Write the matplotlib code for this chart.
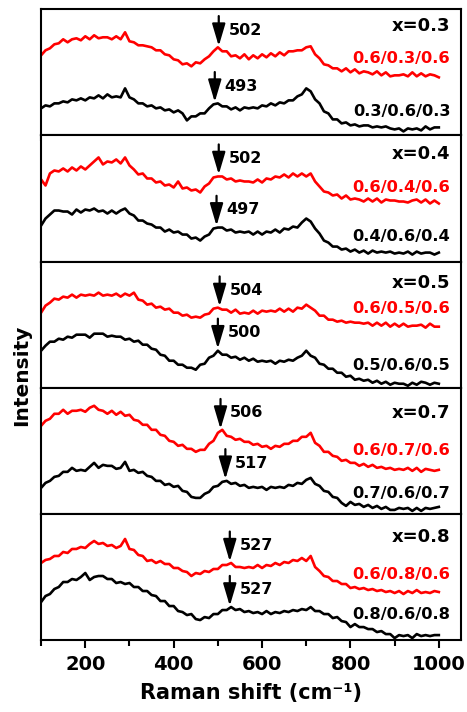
import matplotlib.pyplot as plt
import numpy as np
from matplotlib.ticker import MultipleLocator

plt.rcParams['font.family'] = 'DejaVu Sans'
plt.rcParams['font.weight'] = 'bold'

# Raman shift grid (cm-1), read every 10 cm-1
shift = np.arange(100, 1001, 10)

# intensities (arb. units, per panel)
red_03 = [80, 85, 87, 91, 92, 96, 93, 96, 97, 95, 99, 96, 100, 97, 98, 98, 96, 99, 96, 103,
          94, 93, 90, 90, 89, 88, 85, 85, 81, 80, 76, 75, 71, 72, 69, 73, 72, 76, 79, 84,
          88, 84, 84, 79, 80, 77, 81, 76, 80, 77, 81, 78, 82, 79, 83, 80, 84, 84, 85, 85,
          88, 89, 81, 77, 71, 70, 67, 67, 64, 67, 63, 66, 62, 64, 63, 61, 64, 60, 63, 59,
          60, 60, 61, 59, 63, 59, 62, 59, 61, 60, 58]
black_03 = [27, 30, 29, 32, 32, 34, 33, 36, 35, 37, 35, 38, 37, 40, 37, 41, 38, 39, 38, 47,
            38, 36, 32, 32, 29, 30, 27, 28, 25, 26, 23, 25, 22, 15, 19, 19, 22, 22, 27, 31,
            32, 29, 29, 26, 28, 25, 28, 27, 28, 27, 30, 29, 32, 30, 33, 32, 35, 35, 39, 41,
            47, 44, 36, 32, 24, 22, 16, 16, 12, 13, 10, 11, 9, 10, 10, 8, 9, 8, 9, 7,
            6, 7, 4, 7, 6, 7, 5, 9, 6, 8, 8]
red_04 = [82, 76, 88, 91, 90, 93, 90, 94, 91, 95, 92, 96, 100, 104, 97, 100, 99, 102, 98, 104,
          96, 92, 87, 88, 83, 83, 79, 80, 76, 77, 74, 80, 73, 74, 71, 72, 69, 75, 78, 84,
          85, 85, 82, 83, 80, 81, 80, 80, 79, 82, 79, 83, 82, 85, 84, 87, 84, 88, 85, 88,
          85, 88, 80, 75, 70, 69, 66, 67, 63, 66, 62, 63, 62, 60, 63, 60, 63, 59, 62, 61,
          61, 60, 60, 59, 61, 62, 59, 62, 58, 61, 58]
black_04 = [36, 43, 47, 51, 51, 50, 50, 47, 52, 49, 52, 51, 53, 50, 51, 48, 51, 48, 51, 53,
            48, 46, 41, 41, 38, 37, 34, 34, 30, 32, 29, 30, 27, 27, 23, 24, 21, 25, 27, 33,
            34, 34, 31, 32, 29, 30, 29, 30, 27, 30, 27, 30, 29, 32, 29, 33, 32, 35, 34, 39,
            43, 40, 33, 28, 21, 19, 15, 15, 12, 13, 10, 12, 9, 11, 8, 11, 9, 10, 9, 10,
            8, 9, 8, 10, 7, 10, 8, 9, 9, 7, 9]
red_05 = [75, 82, 85, 89, 88, 91, 90, 93, 90, 93, 92, 93, 92, 95, 92, 93, 92, 94, 91, 94,
          92, 95, 88, 87, 83, 84, 80, 81, 78, 79, 75, 75, 72, 73, 70, 71, 70, 73, 74, 79,
          80, 78, 78, 75, 78, 74, 75, 74, 77, 74, 77, 76, 77, 76, 79, 76, 79, 76, 80, 79,
          83, 80, 77, 72, 72, 68, 68, 66, 67, 65, 66, 65, 65, 64, 65, 62, 65, 62, 65, 61,
          64, 61, 64, 61, 62, 62, 63, 60, 64, 61, 61]
black_05 = [37, 42, 46, 46, 49, 48, 51, 50, 53, 53, 53, 50, 54, 54, 54, 51, 52, 51, 51, 48,
            49, 46, 47, 43, 43, 39, 38, 33, 32, 27, 27, 23, 23, 20, 20, 18, 23, 24, 30, 32,
            37, 33, 33, 30, 31, 28, 30, 27, 29, 26, 27, 26, 27, 24, 27, 26, 28, 27, 30, 32,
            37, 32, 30, 24, 23, 19, 19, 15, 15, 11, 12, 8, 9, 7, 8, 5, 7, 4, 6, 3,
            5, 4, 4, 2, 5, 3, 6, 5, 3, 5, 4]
red_07 = [88, 93, 95, 100, 100, 104, 100, 103, 103, 104, 102, 106, 108, 104, 103, 100, 103, 99, 102, 98,
          99, 94, 93, 89, 89, 84, 84, 79, 78, 73, 72, 68, 69, 65, 65, 62, 64, 64, 70, 73,
          81, 84, 78, 77, 74, 75, 72, 72, 69, 70, 67, 68, 65, 68, 67, 70, 70, 73, 73, 77,
          77, 81, 71, 68, 62, 62, 58, 57, 53, 54, 51, 51, 48, 50, 47, 49, 46, 47, 45, 46,
          44, 45, 44, 46, 43, 46, 42, 45, 44, 43, 44]
black_07 = [26, 31, 33, 37, 38, 42, 42, 46, 43, 44, 43, 47, 51, 46, 49, 48, 48, 45, 46, 52,
            43, 44, 41, 42, 38, 37, 33, 33, 29, 30, 27, 28, 23, 22, 17, 16, 16, 20, 22, 27,
            28, 32, 33, 30, 31, 28, 29, 26, 27, 26, 27, 24, 27, 26, 27, 26, 29, 28, 31, 30,
            34, 36, 30, 28, 23, 22, 17, 16, 11, 8, 12, 9, 10, 7, 9, 6, 8, 5, 7, 4,
            4, 6, 5, 6, 3, 6, 3, 6, 5, 6, 7]
red_08 = [77, 80, 81, 84, 84, 88, 87, 91, 91, 93, 92, 96, 99, 96, 97, 94, 95, 92, 94, 101,
          91, 90, 85, 84, 79, 80, 77, 79, 76, 76, 72, 72, 69, 68, 64, 67, 66, 69, 68, 71,
          71, 75, 75, 77, 73, 73, 72, 73, 72, 75, 72, 75, 74, 77, 75, 78, 77, 80, 79, 82,
          79, 84, 73, 69, 64, 63, 59, 59, 56, 56, 52, 53, 51, 52, 50, 51, 49, 50, 48, 49,
          47, 49, 46, 49, 47, 50, 47, 48, 47, 49, 48]
black_08 = [38, 44, 46, 51, 53, 58, 58, 61, 60, 63, 67, 60, 63, 64, 64, 61, 61, 57, 58, 56,
            57, 53, 53, 49, 49, 45, 44, 39, 39, 34, 34, 29, 28, 25, 26, 21, 20, 23, 22, 26,
            26, 30, 30, 33, 30, 31, 28, 29, 27, 28, 26, 29, 26, 28, 27, 29, 28, 30, 29, 31,
            30, 33, 29, 29, 26, 26, 22, 23, 19, 18, 13, 16, 13, 13, 11, 11, 8, 9, 6, 6,
            2, 5, 4, 5, 2, 6, 4, 5, 4, 5, 5]

reds = [red_03, red_04, red_05, red_07, red_08]
blacks = [black_03, black_04, black_05, black_07, black_08]
x_labels = ['x=0.3', 'x=0.4', 'x=0.5', 'x=0.7', 'x=0.8']
red_names = ['0.6/0.3/0.6', '0.6/0.4/0.6', '0.6/0.5/0.6', '0.6/0.7/0.6', '0.6/0.8/0.6']
black_names = ['0.3/0.6/0.3', '0.4/0.6/0.4', '0.5/0.6/0.5', '0.7/0.6/0.7', '0.8/0.6/0.8']
red_peaks = [502, 502, 504, 506, 527]
black_peaks = [493, 497, 500, 517, 527]

# label heights (axes fraction)
x_lab_y = [0.865, 0.85, 0.83, 0.80, 0.82]
red_lab_y = [0.61, 0.59, 0.63, 0.50, 0.52]
black_lab_y = [0.19, 0.20, 0.18, 0.16, 0.20]

fig, axes = plt.subplots(5, 1, figsize=(4.67, 7.12), dpi=100, sharex=True)
fig.subplots_adjust(left=0.088, right=0.987, top=0.987, bottom=0.101, hspace=0)


def peak_arrow(ax, xs, ys, p):
    tip = np.interp(p, xs, ys) + 2
    ax.annotate('', xy=(p, tip), xytext=(p, tip + 30),
                arrowprops=dict(arrowstyle='-|>,head_width=0.4,head_length=1.35',
                                mutation_scale=10, lw=1.6, color='k',
                                shrinkA=0, shrinkB=0))
    ax.text(p + 22, tip + 16, str(p), fontsize=11.5, fontweight='bold',
            va='center', ha='left')


for i, ax in enumerate(axes):
    ax.plot(shift, reds[i], color='red', lw=1.9)
    ax.plot(shift, blacks[i], color='black', lw=1.9)
    peak_arrow(ax, shift, reds[i], red_peaks[i])
    peak_arrow(ax, shift, blacks[i], black_peaks[i])
    ax.text(0.975, x_lab_y[i], x_labels[i], transform=ax.transAxes,
            ha='right', va='center', fontsize=13, fontweight='bold')
    ax.text(0.975, red_lab_y[i], red_names[i], transform=ax.transAxes,
            ha='right', va='center', fontsize=11.7, fontweight='bold', color='red')
    ax.text(0.975, black_lab_y[i], black_names[i], transform=ax.transAxes,
            ha='right', va='center', fontsize=11.7, fontweight='bold', color='black')
    ax.set_ylim(0, 126)
    ax.set_xlim(100, 1050)
    ax.set_yticks([])
    ax.xaxis.set_major_locator(MultipleLocator(200))
    ax.xaxis.set_minor_locator(MultipleLocator(100))
    ax.tick_params(axis='x', which='major', direction='out', length=6, width=1.5,
                   labelsize=14, pad=5)
    ax.tick_params(axis='x', which='minor', direction='out', length=4, width=1.5)
    for s in ax.spines.values():
        s.set_linewidth(1.5)

axes[-1].set_xlabel('Raman shift (cm\u207b\u00b9)', fontsize=15, fontweight='bold', labelpad=6)
fig.text(0.047, 0.473, 'Intensity', rotation=90, fontsize=14.5, fontweight='bold',
         ha='center', va='center')

plt.savefig('out.png', dpi=100)
